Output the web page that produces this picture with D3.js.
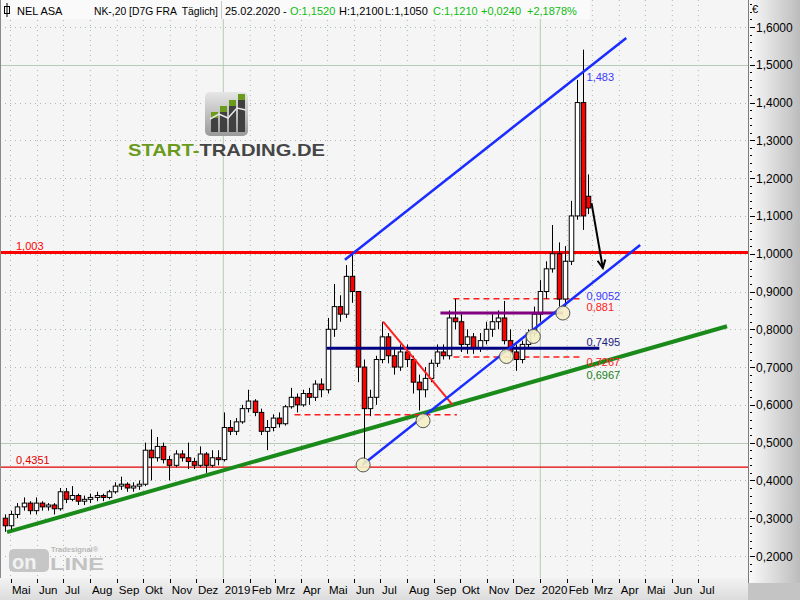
<!DOCTYPE html>
<html><head><meta charset="utf-8">
<script src="https://cdn.jsdelivr.net/npm/d3@7"></script>
<style>body{margin:0;background:#fff}svg{display:block}text{font-family:"Liberation Sans",Arial,sans-serif}</style>
</head><body>
<svg id="c" width="800" height="600"></svg>
<script>
// ---- data (weekly candles, mid-week dates) ----
const dates = ["2018-04-25","2018-05-02","2018-05-09","2018-05-16","2018-05-23","2018-05-30","2018-06-06","2018-06-13","2018-06-20","2018-06-27","2018-07-04","2018-07-11","2018-07-18","2018-07-25","2018-08-01","2018-08-08","2018-08-15","2018-08-22","2018-08-29","2018-09-05","2018-09-12","2018-09-19","2018-09-26","2018-10-03","2018-10-10","2018-10-17","2018-10-24","2018-10-31","2018-11-07","2018-11-14","2018-11-21","2018-11-28","2018-12-05","2018-12-12","2018-12-19","2018-12-26",
"2019-01-02","2019-01-09","2019-01-16","2019-01-23","2019-01-30","2019-02-06","2019-02-13","2019-02-20","2019-02-27","2019-03-06","2019-03-13","2019-03-20","2019-03-27","2019-04-03","2019-04-10","2019-04-17","2019-04-24","2019-05-01","2019-05-08","2019-05-15","2019-05-22","2019-05-29","2019-06-05","2019-06-12","2019-06-19","2019-06-26","2019-07-03","2019-07-10","2019-07-17","2019-07-24","2019-07-31","2019-08-07","2019-08-14","2019-08-21","2019-08-28","2019-09-04","2019-09-11","2019-09-18","2019-09-25","2019-10-02","2019-10-09","2019-10-16","2019-10-23","2019-10-30","2019-11-06","2019-11-13","2019-11-20","2019-11-27","2019-12-04","2019-12-11","2019-12-18","2019-12-25",
"2020-01-01","2020-01-08","2020-01-15","2020-01-22","2020-01-29","2020-02-05","2020-02-12","2020-02-19","2020-02-25"];
const open  = [0.30,0.28,0.31,0.33,0.34,0.32,0.34,0.33,0.335,0.325,0.37,0.35,0.36,0.345,0.35,0.355,0.36,0.355,0.37,0.385,0.39,0.38,0.385,0.39,0.48,0.46,0.49,0.455,0.44,0.47,0.46,0.45,0.44,0.47,0.44,0.46,
0.455,0.54,0.53,0.555,0.59,0.61,0.58,0.53,0.54,0.565,0.55,0.595,0.62,0.60,0.63,0.62,0.655,0.64,0.80,0.86,0.84,0.94,0.90,0.70,0.59,0.62,0.72,0.78,0.73,0.70,0.74,0.72,0.66,0.64,0.67,0.71,0.74,0.73,0.83,0.82,0.76,0.78,0.75,0.77,0.80,0.82,0.83,0.77,0.74,0.72,0.76,0.79,
0.84,0.90,0.96,1.00,0.88,0.98,1.10,1.40,1.152];
const high  = [0.31,0.32,0.34,0.355,0.345,0.355,0.345,0.34,0.34,0.38,0.38,0.385,0.365,0.36,0.365,0.37,0.365,0.375,0.395,0.41,0.395,0.395,0.40,0.50,0.535,0.515,0.50,0.465,0.48,0.48,0.50,0.46,0.49,0.475,0.48,0.48,
0.58,0.56,0.565,0.60,0.64,0.615,0.59,0.56,0.575,0.58,0.60,0.645,0.63,0.64,0.645,0.665,0.67,0.83,0.92,0.89,0.97,1.00,0.90,0.72,0.64,0.73,0.82,0.79,0.75,0.76,0.76,0.73,0.68,0.70,0.72,0.76,0.76,0.85,0.88,0.84,0.80,0.79,0.79,0.82,0.84,0.85,0.875,0.80,0.76,0.77,0.80,0.86,
0.93,0.98,1.076,1.03,1.02,1.14,1.46,1.54,1.21];
const low   = [0.264,0.27,0.30,0.32,0.31,0.31,0.32,0.32,0.31,0.32,0.34,0.345,0.335,0.335,0.34,0.345,0.345,0.35,0.365,0.375,0.37,0.37,0.375,0.385,0.40,0.45,0.445,0.40,0.435,0.45,0.43,0.43,0.435,0.42,0.435,0.44,
0.45,0.52,0.52,0.55,0.58,0.57,0.52,0.48,0.53,0.54,0.545,0.59,0.58,0.595,0.60,0.61,0.62,0.63,0.78,0.82,0.83,0.87,0.66,0.447,0.57,0.60,0.71,0.71,0.68,0.69,0.70,0.63,0.585,0.62,0.66,0.70,0.72,0.72,0.80,0.74,0.735,0.735,0.74,0.76,0.78,0.80,0.76,0.72,0.69,0.71,0.75,0.78,
0.82,0.88,0.95,0.86,0.86,0.97,1.09,1.063,1.105];
const close = [0.28,0.31,0.33,0.34,0.32,0.34,0.33,0.335,0.325,0.37,0.35,0.36,0.345,0.35,0.355,0.36,0.355,0.37,0.385,0.39,0.38,0.385,0.39,0.48,0.46,0.49,0.455,0.44,0.47,0.46,0.45,0.44,0.47,0.44,0.46,0.455,
0.54,0.53,0.555,0.59,0.61,0.58,0.53,0.54,0.565,0.55,0.595,0.62,0.60,0.63,0.62,0.655,0.64,0.80,0.86,0.84,0.94,0.90,0.70,0.59,0.62,0.72,0.78,0.73,0.70,0.74,0.72,0.66,0.64,0.67,0.71,0.74,0.73,0.83,0.82,0.76,0.78,0.75,0.77,0.80,0.82,0.83,0.77,0.74,0.72,0.76,0.79,0.84,
0.90,0.96,1.00,0.88,0.98,1.10,1.40,1.10,1.121];

const priceTicks = [0.2,0.3,0.4,0.5,0.6,0.7,0.8,0.9,1.0,1.1,1.2,1.3,1.4,1.5,1.6];
const monthNames = ["2019","Feb","Mrz","Apr","Mai","Jun","Jul","Aug","Sep","Okt","Nov","Dez"];

// horizontal levels
const levels = [
  {value:1.003, from:"2018-04-01", to:"2020-09-01", label:"1,003", color:"#ff0000", w:3},
  {value:0.4351, from:"2018-04-01", to:"2020-09-01", label:"0,4351", color:"#e00000", w:1.2}
];
const navyLine   = {value:0.7495, from:"2019-04-30", to:"2020-03-09"};
const purpleLine = {value:0.843,  from:"2019-09-08", to:"2020-01-27"};
const dashedLines = [
  {value:0.881,  from:"2019-09-23", to:"2020-02-19"},
  {value:0.7267, from:"2019-09-23", to:"2020-02-19"},
  {value:0.574,  from:"2019-03-24", to:"2019-09-27"}
];
const greenTrend = [["2018-04-27",0.263],["2020-08-03",0.808]];
const blueUpper  = [["2019-05-21",0.984],["2020-04-09",1.571]];
const blueLower  = [["2019-06-10",0.441],["2020-04-25",1.023]];
const redDiag    = [["2019-07-04",0.82],["2019-09-22",0.60]];
const arrowPts   = [["2020-02-29",1.134],["2020-03-13",0.962]];
const circles    = [["2019-06-11",0.441],["2019-08-19",0.558],["2019-11-23",0.728],["2019-12-24",0.781],["2020-01-27",0.843]];
const rightLabels = [
  {date:"2020-02-21", value:1.483, text:"1,483", color:"#3a3aff", dy:10},
  {date:"2020-02-21", value:0.9052, text:"0,9052", color:"#3a3aff", dy:10},
  {date:"2020-02-21", value:0.881, text:"0,881", color:"#ff2020", dy:12},
  {date:"2020-02-21", value:0.7495, text:"0,7495", color:"#202080", dy:-2},
  {date:"2020-02-21", value:0.7267, text:"0,7267", color:"#ff2020", dy:9},
  {date:"2020-02-21", value:0.6967, text:"0,6967", color:"#208020", dy:11}
];

// ---- setup ----
const P = d3.timeParse("%Y-%m-%d");
const svg = d3.select("#c");
const W = 800, H = 600, plotR = 748, plotB = 578;
const x = d3.scaleTime().domain([new Date(2019,0,1), new Date(2020,0,1)]).range([223.3, 540.3]);
const y = d3.scaleLinear().domain([0.2,1.6]).range([556,27]);
const fmt4 = v => d3.format(".4f")(v).replace(".",",");

const defs = svg.append("defs");
const gR = defs.append("linearGradient").attr("id","gR").attr("x1","0").attr("x2","1").attr("y1","0").attr("y2","0");
gR.append("stop").attr("offset","0").attr("stop-color","#fbfbfb");
gR.append("stop").attr("offset","1").attr("stop-color","#bcbcbc");
const gB = defs.append("linearGradient").attr("id","gB").attr("x1","0").attr("x2","0").attr("y1","0").attr("y2","1");
gB.append("stop").attr("offset","0").attr("stop-color","#f2f2f2");
gB.append("stop").attr("offset","1").attr("stop-color","#dcdcdc");
const gL = defs.append("linearGradient").attr("id","gL").attr("x1","0").attr("x2","0").attr("y1","0").attr("y2","1");
gL.append("stop").attr("offset","0").attr("stop-color","#e6e6e6");
gL.append("stop").attr("offset","1").attr("stop-color","#9a9a9a");
defs.append("clipPath").attr("id","clip").append("rect").attr("x",0).attr("y",0).attr("width",plotR).attr("height",plotB);

// backgrounds
svg.append("rect").attr("x",0).attr("y",0).attr("width",plotR).attr("height",plotB).attr("fill","#f5f5f5");
svg.append("rect").attr("x",plotR).attr("y",0).attr("width",W-plotR).attr("height",H).attr("fill","url(#gR)");
svg.append("rect").attr("x",0).attr("y",plotB).attr("width",plotR).attr("height",H-plotB).attr("fill","url(#gB)");
svg.append("rect").attr("x",plotR).attr("y",583).attr("width",W-plotR).attr("height",H-583).attr("fill","#c4c4c4");

const plot = svg.append("g").attr("clip-path","url(#clip)");

// grid
const months = d3.timeMonth.range(new Date(2018,4,1), new Date(2020,7,1));
plot.selectAll(".vg").data(months).join("line")
  .attr("x1",d=>x(d)).attr("x2",d=>x(d)).attr("y1",0).attr("y2",plotB)
  .attr("stroke", d=>d.getMonth()===0 ? "#b3ccb3" : "#a8bca8")
  .attr("stroke-width",1)
  .attr("stroke-dasharray", d=>d.getMonth()===0 ? null : "1,4");
plot.selectAll(".hg").data(priceTicks).join("line")
  .attr("x1",0).attr("x2",plotR).attr("y1",d=>Math.round(y(d))+0.5).attr("y2",d=>Math.round(y(d))+0.5)
  .attr("stroke", d=>Math.abs((d*10)%10-5)<0.01 ? "#b3ccb3" : "#a8bca8")
  .attr("stroke-dasharray", d=>Math.abs((d*10)%10-5)<0.01 ? null : "1,4");

// logo start-trading
const logo = svg.append("g");
logo.append("rect").attr("x",205).attr("y",92).attr("width",43).attr("height",44).attr("rx",5).attr("fill","url(#gL)");
const bars = [[211,118,7],[220,112,7],[229,106,7],[238,100,7]];
bars.forEach(b=>{
  logo.append("rect").attr("x",b[0]).attr("y",b[1]).attr("width",b[2]).attr("height",132-b[1]).attr("fill","#404040");
  logo.append("rect").attr("x",b[0]).attr("y",b[1]-6).attr("width",b[2]).attr("height",6).attr("fill","#6b9a1c");
});
logo.append("polyline").attr("points","210,119 219,114 228,118 237,108 246,110").attr("fill","none").attr("stroke","#e8e8e8").attr("stroke-width",1.5);
const lt = logo.append("text").attr("x",128).attr("y",156).attr("font-family","DejaVu Sans").attr("font-weight","bold").attr("font-size",17).attr("textLength",197).attr("lengthAdjust","spacingAndGlyphs");
lt.append("tspan").attr("fill","#6b9a1c").text("START-");
lt.append("tspan").attr("fill","#454545").text("TRADING.DE");

// Tradesignal online logo
const tl = svg.append("g");
tl.append("rect").attr("x",9).attr("y",549).attr("width",40).attr("height",23).attr("rx",5).attr("fill","#c6c6c6");
tl.append("text").attr("x",12).attr("y",569).attr("font-family","DejaVu Sans").attr("font-weight","bold").attr("font-size",20).attr("fill","#f2f2f2").text("on");
tl.append("text").attr("x",50).attr("y",570).attr("font-family","DejaVu Sans").attr("font-weight","bold").attr("font-size",16).attr("fill","#c2c2c2").attr("textLength",54).attr("lengthAdjust","spacingAndGlyphs").text("LINE");
tl.append("text").attr("x",51).attr("y",552).attr("font-family","DejaVu Sans").attr("font-weight","bold").attr("font-size",7.5).attr("fill","#b8b8b8").text("Tradesignal®");

// horizontal levels
plot.selectAll(".lvl").data(levels).join("line")
  .attr("x1",d=>x(P(d.from))).attr("x2",d=>x(P(d.to))).attr("y1",d=>y(d.value)).attr("y2",d=>y(d.value))
  .attr("stroke",d=>d.color).attr("stroke-width",d=>d.w);
svg.selectAll(".lvlt").data(levels).join("text")
  .attr("x",16).attr("y",d=>y(d.value)-3).attr("font-size",11).attr("fill",d=>d.color).text(d=>d.label);

// green trend
const line = d3.line().x(d=>x(P(d[0]))).y(d=>y(d[1]));
plot.append("path").attr("d",line(greenTrend)).attr("stroke","#1a8a1a").attr("stroke-width",4).attr("fill","none");

// dashed red lines
plot.selectAll(".dl").data(dashedLines).join("line")
  .attr("x1",d=>x(P(d.from))).attr("x2",d=>x(P(d.to))).attr("y1",d=>y(d.value)).attr("y2",d=>y(d.value))
  .attr("stroke","#ff1a1a").attr("stroke-width",1.6).attr("stroke-dasharray","6,4");

// candles
const data = dates.map((d,i)=>({d:P(d),o:open[i],h:high[i],l:low[i],c:close[i]}));
const cw = 4.5;
const cg = plot.append("g");
cg.selectAll(".wk").data(data).join("line")
  .attr("x1",d=>Math.round(x(d.d))+0.5).attr("x2",d=>Math.round(x(d.d))+0.5)
  .attr("y1",d=>y(d.h)).attr("y2",d=>y(d.l)).attr("stroke","#000").attr("stroke-width",1);
cg.selectAll(".bd").data(data).join("rect")
  .attr("x",d=>Math.round(x(d.d))+0.5-cw/2).attr("width",cw)
  .attr("y",d=>y(Math.max(d.o,d.c))).attr("height",d=>Math.max(1,Math.abs(y(d.o)-y(d.c))))
  .attr("fill",d=>d.c>=d.o?"#ffffff":"#ff0000").attr("stroke","#000").attr("stroke-width",1);

// navy & purple
plot.append("line").attr("x1",x(P(navyLine.from))).attr("x2",x(P(navyLine.to))).attr("y1",y(navyLine.value)).attr("y2",y(navyLine.value)).attr("stroke","#000080").attr("stroke-width",3);
plot.append("line").attr("x1",x(P(purpleLine.from))).attr("x2",x(P(purpleLine.to))).attr("y1",y(purpleLine.value)).attr("y2",y(purpleLine.value)).attr("stroke","#800080").attr("stroke-width",3);

// red diagonal
plot.append("path").attr("d",line(redDiag)).attr("stroke","#ff2020").attr("stroke-width",2).attr("fill","none");

// blue channel
plot.append("path").attr("d",line(blueUpper)).attr("stroke","#1a2cff").attr("stroke-width",2.5).attr("fill","none");
plot.append("path").attr("d",line(blueLower)).attr("stroke","#1a2cff").attr("stroke-width",2.5).attr("fill","none");

// circles
plot.selectAll(".cc").data(circles).join("ellipse")
  .attr("cx",d=>x(P(d[0]))).attr("cy",d=>y(d[1])).attr("rx",7).attr("ry",7)
  .attr("fill","#f4efc4").attr("fill-opacity",0.9).attr("stroke","#555").attr("stroke-width",1);

// arrow
const a0 = [x(P(arrowPts[0][0])), y(arrowPts[0][1])], a1 = [x(P(arrowPts[1][0])), y(arrowPts[1][1])];
plot.append("line").attr("x1",a0[0]).attr("y1",a0[1]).attr("x2",a1[0]).attr("y2",a1[1]).attr("stroke","#000").attr("stroke-width",2);
const ang = Math.atan2(a1[1]-a0[1], a1[0]-a0[0]);
const ah = 9;
plot.append("polyline").attr("points",[
  [a1[0]-ah*Math.cos(ang-0.45), a1[1]-ah*Math.sin(ang-0.45)], a1,
  [a1[0]-ah*Math.cos(ang+0.45), a1[1]-ah*Math.sin(ang+0.45)]].map(p=>p.join(",")).join(" "))
  .attr("fill","none").attr("stroke","#000").attr("stroke-width",2);

// right labels
svg.selectAll(".rl").data(rightLabels).join("text")
  .attr("x",d=>x(P(d.date))+2).attr("y",d=>y(d.value)+d.dy).attr("font-size",11).attr("fill",d=>d.color).text(d=>d.text);

// header
const hd = svg.append("g");
hd.append("rect").attr("x",0).attr("y",0).attr("width",590).attr("height",19).attr("fill","#fafafa");
hd.append("line").attr("x1",221.5).attr("x2",221.5).attr("y1",1).attr("y2",19).attr("stroke","#c8c8c8");
hd.append("rect").attr("x",4.5).attr("y",6.5).attr("width",5).attr("height",7).attr("fill","none").attr("stroke","#000");
hd.append("line").attr("x1",7).attr("x2",7).attr("y1",3).attr("y2",17).attr("stroke","#000");
const hItems = [[17,"NEL ASA","#000",0],[94,"NK-,20 [D7G FRA  Täglich]","#000",124],[225,"25.02.2020 -","#000",0],[290,"O:1,1520","#11bb11",0],[339,"H:1,2100","#000",0],[385,"L:1,1050","#000",0],[433,"C:1,1210","#11bb11",0],[481,"+0,0240","#11bb11",0],[527,"+2,1878%","#11bb11",0]];
hd.selectAll(".ht").data(hItems).join("text").attr("x",d=>d[0]).attr("y",15).attr("font-size",11).attr("fill",d=>d[2])
  .attr("textLength",d=>d[3]||null).attr("lengthAdjust","spacingAndGlyphs")
  .attr("xml:space","preserve").style("white-space","pre").text(d=>d[1]);

// borders
svg.append("line").attr("x1",0.5).attr("x2",0.5).attr("y1",0).attr("y2",plotB).attr("stroke","#8a8a8a");
svg.append("line").attr("x1",plotR+0.5).attr("x2",plotR+0.5).attr("y1",0).attr("y2",583).attr("stroke","#7a7a7a");

// right axis
const minor = d3.range(0.16,1.661,0.02);
svg.selectAll(".mt").data(minor).join("line")
  .attr("x1",750).attr("x2",752).attr("y1",d=>Math.round(y(d))+0.5).attr("y2",d=>Math.round(y(d))+0.5).attr("stroke","#000");
svg.selectAll(".Mt").data(priceTicks).join("line")
  .attr("x1",751).attr("x2",755).attr("y1",d=>Math.round(y(d))+0.5).attr("y2",d=>Math.round(y(d))+0.5).attr("stroke","#000");
svg.selectAll(".yl").data(priceTicks).join("text")
  .attr("x",756).attr("y",d=>y(d)+4.5).attr("font-size",12).attr("fill","#000").text(d=>fmt4(d));
svg.append("text").attr("x",752).attr("y",13).attr("font-size",11).text("€");

// bottom axis
svg.selectAll(".xt").data(months).join("line")
  .attr("x1",d=>Math.round(x(d))+0.5).attr("x2",d=>Math.round(x(d))+0.5).attr("y1",579).attr("y2",583).attr("stroke","#000");
svg.selectAll(".xl").data(months).join("text")
  .attr("x",d=>x(d)+1.5).attr("y",594).attr("font-size",11.5).attr("fill","#000")
  .text(d=>d.getMonth()===0 ? String(d.getFullYear()) : monthNames[d.getMonth()]);
</script>
</body></html>
